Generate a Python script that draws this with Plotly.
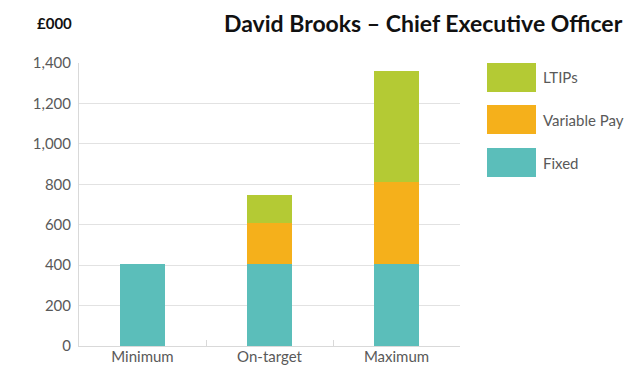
import plotly.graph_objects as go

categories = ["Minimum", "On-target", "Maximum"]
fixed = [405, 405, 405]
variable_pay = [0, 205, 406]
ltips = [0, 138, 547]
y_ticks = [0, 200, 400, 600, 800, 1000, 1200, 1400]

c_fixed = "#5BBEBA"
c_var = "#F5B01B"
c_ltip = "#B4CA34"
FONT = "Lato"
GRAY = "#595959"

fig = go.Figure()
for name, vals, col in [("Fixed", fixed, c_fixed), ("Variable Pay", variable_pay, c_var), ("LTIPs", ltips, c_ltip)]:
    fig.add_trace(go.Bar(x=categories, y=vals, name=name, marker=dict(color=col, line=dict(width=0)),
                         width=0.355, showlegend=False))

fig.update_layout(
    barmode="stack",
    width=629, height=366,
    margin=dict(l=79, r=169, t=63, b=20),
    plot_bgcolor="white", paper_bgcolor="white",
    font=dict(family=FONT, color=GRAY, size=15),
)
fig.update_yaxes(range=[0, 1400], tickvals=y_ticks, tickformat=",d", showgrid=True, gridcolor="#E2E2E2", gridwidth=1,
                 showline=True, linecolor="#D9D9D9", linewidth=1, zeroline=False, ticks="", automargin=False,
                 tickfont=dict(family=FONT, size=15, color=GRAY), ticklabelstandoff=4)
fig.update_xaxes(showline=True, linecolor="#D9D9D9", linewidth=1, tickson="boundaries", ticks="inside", ticklen=6,
                 tickcolor="#D9D9D9", automargin=False, tickfont=dict(family=FONT, size=15, color=GRAY),
                 ticklabelstandoff=-3)

# title and unit
fig.add_annotation(text="<b>David Brooks – Chief Executive Officer</b>", xref="paper", yref="paper",
                   x=(625 - 79) / 381, y=(346 - 23) / 283, xanchor="right", yanchor="middle", showarrow=False,
                   font=dict(family=FONT, size=23, color="#111111"))
fig.add_annotation(text="<b>£000</b>", xref="paper", yref="paper",
                   x=(35 - 79) / 381, y=(346 - 23) / 283, xanchor="left", yanchor="middle", showarrow=False,
                   font=dict(family=FONT, size=15, color="#111111"))

# manual legend
legend_items = [("LTIPs", c_ltip, 63), ("Variable Pay", c_var, 105), ("Fixed", c_fixed, 148)]
for name, col, top in legend_items:
    y0 = (346 - (top + 29)) / 283
    y1 = (346 - top) / 283
    fig.add_shape(type="rect", xref="paper", yref="paper", x0=(487 - 79) / 381, x1=(536 - 79) / 381,
                  y0=y0, y1=y1, fillcolor=col, line=dict(width=0))
    fig.add_annotation(text=name, xref="paper", yref="paper", x=(541 - 79) / 381, y=(y0 + y1) / 2,
                       xanchor="left", yanchor="middle", showarrow=False, font=dict(family=FONT, size=15, color=GRAY))

fig.write_html("out.html", config={"displayModeBar": False},
               post_script="document.body.style.margin='0';document.body.style.overflow='hidden';")
